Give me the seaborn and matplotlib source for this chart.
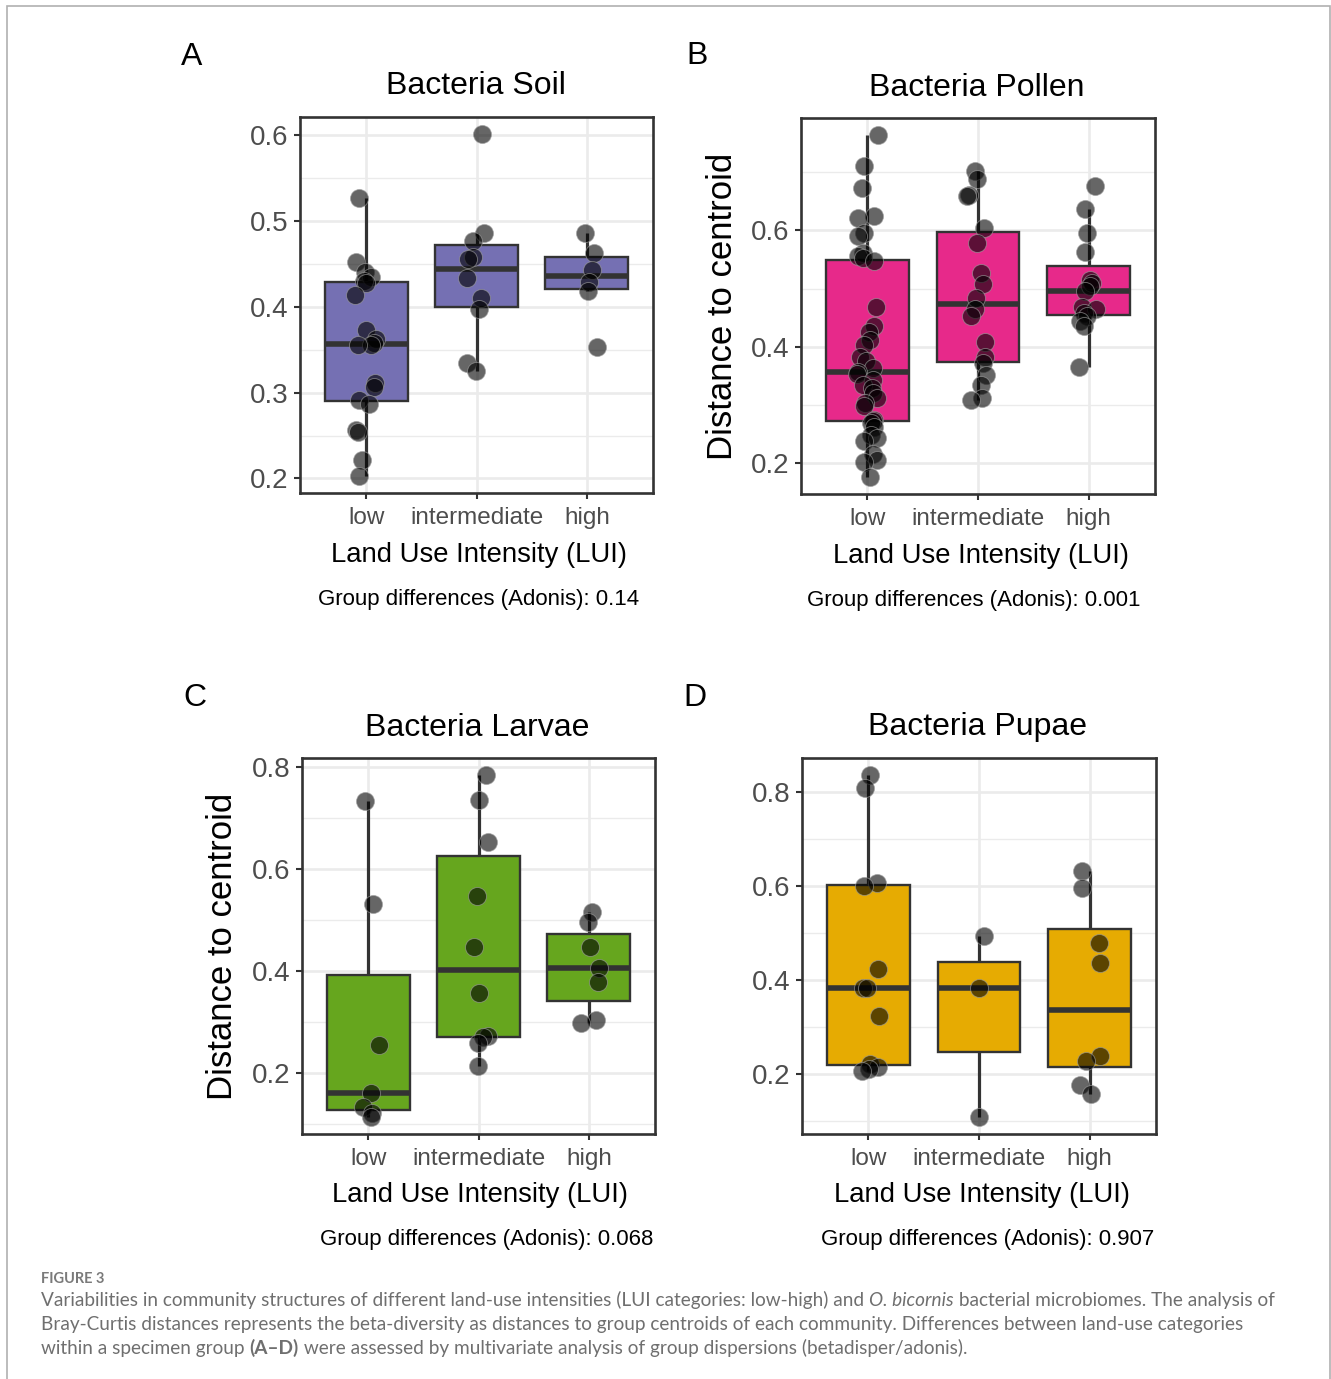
import numpy as np
import pandas as pd
import matplotlib
matplotlib.use("Agg")
import matplotlib.pyplot as plt
import seaborn as sns
from matplotlib.ticker import MultipleLocator, FormatStrFormatter
from matplotlib.patches import Rectangle

# ---------------- data ----------------
categories = ["low", "intermediate", "high"]

soil_low = [0.527, 0.452, 0.441, 0.435, 0.430, 0.428, 0.414, 0.373, 0.362, 0.358,
            0.356, 0.355, 0.311, 0.307, 0.291, 0.287, 0.256, 0.254, 0.221, 0.203]
soil_intermediate = [0.601, 0.486, 0.476, 0.458, 0.455, 0.433, 0.410, 0.397, 0.334, 0.325]
soil_high = [0.486, 0.463, 0.443, 0.429, 0.418, 0.353]

pollen_low = [0.763, 0.710, 0.673, 0.625, 0.621, 0.595, 0.590, 0.561, 0.555, 0.552, 0.547,
              0.469, 0.435, 0.426, 0.412, 0.403, 0.383, 0.375, 0.363,
              0.357, 0.353, 0.343, 0.335, 0.329, 0.320, 0.312, 0.303, 0.298, 0.275,
              0.272, 0.269, 0.262, 0.249, 0.243, 0.238, 0.217, 0.206, 0.203, 0.177]
pollen_intermediate = [0.701, 0.687, 0.661, 0.658, 0.604, 0.578, 0.527, 0.507, 0.484,
                       0.464, 0.452, 0.409, 0.383, 0.372, 0.352, 0.335, 0.312, 0.309]
pollen_high = [0.676, 0.636, 0.595, 0.563, 0.515, 0.509, 0.504, 0.495, 0.469, 0.464,
               0.458, 0.452, 0.444, 0.435, 0.366]

larvae_low = [0.734, 0.531, 0.255, 0.161, 0.133, 0.121, 0.114]
larvae_intermediate = [0.785, 0.736, 0.653, 0.547, 0.447, 0.358, 0.273, 0.270, 0.260, 0.214]
larvae_high = [0.517, 0.497, 0.448, 0.407, 0.379, 0.304, 0.299]

pupae_low = [0.836, 0.809, 0.607, 0.600, 0.424, 0.383, 0.383, 0.323, 0.221, 0.214, 0.209, 0.206]
pupae_intermediate = [0.493, 0.383, 0.108]
pupae_high = [0.632, 0.596, 0.479, 0.436, 0.237, 0.228, 0.175, 0.156]

panel_letters = ["A", "B", "C", "D"]
panel_titles = ["Bacteria Soil", "Bacteria Pollen", "Bacteria Larvae", "Bacteria Pupae"]
adonis_values = ["0.14", "0.001", "0.068", "0.907"]
panel_colors = ["#7570B3", "#E7298A", "#66A61E", "#E6AB02"]
panel_data = [
    (soil_low, soil_intermediate, soil_high),
    (pollen_low, pollen_intermediate, pollen_high),
    (larvae_low, larvae_intermediate, larvae_high),
    (pupae_low, pupae_intermediate, pupae_high),
]
x_title = "Land Use Intensity (LUI)"
y_title = "Distance to centroid"

caption_head = "FIGURE 3"
caption_lines = [
    [("Variabilities in community structures of different land-use intensities (LUI categories: low-high) and ", "normal", "normal"),
     ("O. bicornis", "italic", "normal"),
     (" bacterial microbiomes. The analysis of", "normal", "normal")],
    [("Bray-Curtis distances represents the beta-diversity as distances to group centroids of each community. Differences between land-use categories", "normal", "normal")],
    [("within a specimen group ", "normal", "normal"),
     ("(A\u2013D)", "normal", "bold"),
     (" were assessed by multivariate analysis of group dispersions (betadisper/adonis).", "normal", "normal")],
]

# ---------------- layout (pixels) ----------------
W, H = 1331, 1379
axes_px = [(300, 117, 653, 493), (801, 118, 1155, 494),
           (302, 758, 655, 1134), (802, 758, 1156, 1134)]
major_steps = [0.1, 0.2, 0.2, 0.2]
letter_pos = [(192, 65), (697, 64), (195, 706), (695, 706)]
title_pos = [(476, 94.5), (977, 95.5), (477.5, 735.5), (977.5, 735.5)]
xlab_pos = [(478.5, 562), (981, 563), (480, 1202), (982, 1202)]
adonis_pos = [(479, 605), (973.5, 606), (487, 1245), (987.5, 1245)]
ylab_pos = {1: (722.5, 306), 2: (223, 946)}

sns.set_theme(style="white")
plt.rcParams["font.family"] = ["Liberation Sans", "DejaVu Sans"]

fig = plt.figure(figsize=(W / 100, H / 100), dpi=100)


def ftext(x, y, s, **kw):
    return fig.text(x / W, 1 - y / H, s, **kw)


np.random.seed(11)
for i in range(4):
    l, t, r, b = axes_px[i]
    ax = fig.add_axes([l / W, 1 - b / H, (r - l) / W, (b - t) / H])
    rows = []
    for cat, vals in zip(categories, panel_data[i]):
        for v in vals:
            rows.append((cat, v))
    df = pd.DataFrame(rows, columns=["LUI", "dist"])

    sns.boxplot(data=df, x="LUI", y="dist", order=categories, color=panel_colors[i],
                saturation=1, width=0.75, showfliers=False, whis=1.5,
                linecolor="#333333", linewidth=1.7, ax=ax,
                medianprops=dict(linewidth=4.0, color="#333333"),
                whiskerprops=dict(linewidth=2.3, color="#333333"),
                capprops=dict(linewidth=0))
    sns.stripplot(data=df, x="LUI", y="dist", order=categories, color="black",
                  alpha=0.6, size=13, jitter=0.1, edgecolor="#a0a0a0",
                  linewidth=0.7, ax=ax, zorder=3)

    vmin, vmax = df["dist"].min(), df["dist"].max()
    rng = vmax - vmin
    ax.set_ylim(vmin - 0.05 * rng, vmax + 0.05 * rng)
    ax.set_xlim(-0.6, 2.6)
    ax.set_xlabel("")
    ax.set_ylabel("")

    step = major_steps[i]
    ax.yaxis.set_major_locator(MultipleLocator(step))
    ax.yaxis.set_minor_locator(MultipleLocator(step / 2))
    ax.yaxis.set_major_formatter(FormatStrFormatter("%.1f"))

    ax.set_axisbelow(True)
    ax.grid(True, which="major", axis="both", color="#EBEBEB", linewidth=1.9)
    ax.grid(True, which="minor", axis="y", color="#EBEBEB", linewidth=1.0)

    for sp in ax.spines.values():
        sp.set_visible(True)
        sp.set_color("#333333")
        sp.set_linewidth(1.9)
    ax.tick_params(which="major", length=4.5, width=1.5, color="#333333",
                   labelcolor="#4D4D4D", bottom=True, left=True)
    ax.tick_params(axis="x", labelsize=17.5, pad=5.5)
    ax.tick_params(axis="y", labelsize=20, pad=3.6)
    ax.tick_params(which="minor", length=0)

    ftext(*letter_pos[i], panel_letters[i], ha="center", va="baseline", fontsize=23, color="black")
    ftext(*title_pos[i], panel_titles[i], ha="center", va="baseline", fontsize=23, color="black")
    ftext(*xlab_pos[i], x_title, ha="center", va="baseline", fontsize=19.8, color="black")
    ftext(*adonis_pos[i], "Group differences (Adonis): " + adonis_values[i],
          ha="center", va="baseline", fontsize=16, color="black")
    if i in ylab_pos:
        ftext(*ylab_pos[i], y_title, ha="center", va="center", rotation=90,
              fontsize=25, color="black")

# ---------------- caption ----------------
cap_family = ["Lato", "DejaVu Sans"]
cap_color = "#6f6f6f"
head = ftext(41, 1283, caption_head, ha="left", va="baseline", fontsize=10.5,
             color="#7a7a7a", family=cap_family, weight="bold")
baselines = [1306, 1330, 1354]
cap_texts = []
for li, pieces in enumerate(caption_lines):
    prev = None
    line_texts = []
    for s, style, weight in pieces:
        if prev is None:
            t = ftext(41, baselines[li], s, ha="left", va="baseline", fontsize=12.5,
                      color=cap_color, family=cap_family, style=style, weight=weight)
        else:
            t = fig.text(0, 0, s, ha="left", va="baseline", fontsize=12.5,
                         color=cap_color, family=cap_family, style=style, weight=weight)
        line_texts.append(t)
        prev = t
    cap_texts.append(line_texts)

fig.canvas.draw()
renderer = fig.canvas.get_renderer()


def place_line(line_texts):
    x0 = line_texts[0].get_window_extent(renderer).x1
    y = line_texts[0].get_position()[1]
    for t in line_texts[1:]:
        t.set_position((x0 / W, y))
        x0 = t.get_window_extent(renderer).x1
    return x0


end = place_line(cap_texts[0])
width0 = end - 41
scale = (1280 - 41) / width0
for lt in cap_texts:
    for t in lt:
        t.set_fontsize(12.5 * scale)
fig.canvas.draw()
for lt in cap_texts:
    place_line(lt)

fig.patches.append(Rectangle((7 / W, -0.01), (1330 - 7) / W, 1 - 5.5 / H + 0.01,
                             transform=fig.transFigure, fill=False,
                             edgecolor="#b0b0b0", linewidth=1.2))

fig.savefig("out.png", dpi=100)
